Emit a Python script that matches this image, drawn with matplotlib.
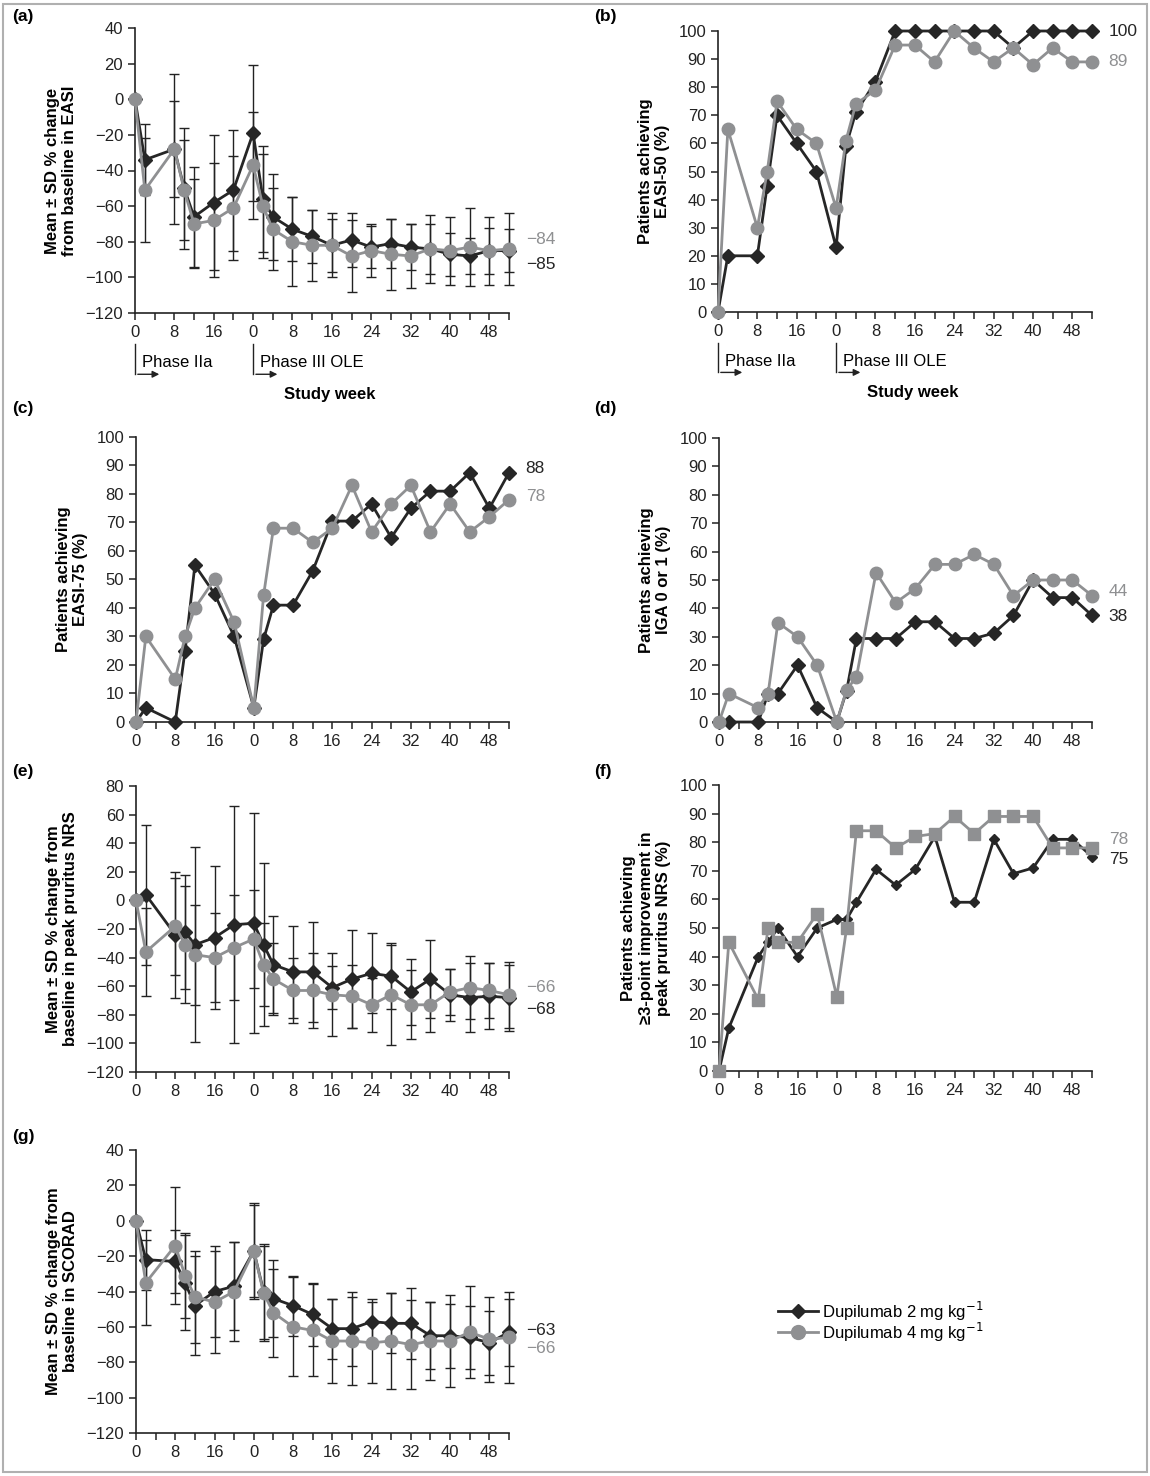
import matplotlib
matplotlib.use("Agg")
import matplotlib.pyplot as plt
from matplotlib.patches import Rectangle
import numpy as np

plt.rcParams['font.family'] = ['Liberation Sans', 'DejaVu Sans']

# x positions: Phase IIa weeks 0,2,8,10,12,16,20 ; OLE weeks 0,2,4,8..52 (offset 24)
weeks_iia = [0, 2, 8, 10, 12, 16, 20]
weeks_ole = [0, 2, 4, 8, 12, 16, 20, 24, 28, 32, 36, 40, 44, 48, 52]
x = np.array(weeks_iia + [24 + w for w in weeks_ole])
xticks = np.arange(0, 77, 4)
xticklabels = ['0', '', '8', '', '16', '', '0', '', '8', '', '16', '', '24', '', '32', '', '40', '', '48', '']

# (a) EASI
a_2 = [0, -34, -28, -50, -66, -58, -51, -19, -56, -66, -73, -77, -82, -79, -83, -81, -83, -84, -87, -88, -85, -85]
a_2sd = [0, 20, 27, 34, 28, 38, 34, 38, 30, 24, 18, 15, 15, 15, 12, 14, 13, 14, 12, 10, 13, 12]
a_4 = [0, -51, -28, -51, -70, -68, -61, -37, -60, -73, -80, -82, -82, -88, -85, -87, -88, -84, -85, -83, -85, -84]
a_4sd = [0, 29, 42, 28, 25, 32, 29, 30, 29, 23, 25, 20, 18, 20, 15, 20, 18, 19, 19, 22, 19, 20]
# (b) EASI-50
b_2 = [0, 20, 20, 45, 70, 60, 50, 23, 59, 71, 82, 100, 100, 100, 100, 100, 100, 94, 100, 100, 100, 100]
b_4 = [0, 65, 30, 50, 75, 65, 60, 37, 61, 74, 79, 95, 95, 89, 100, 94, 89, 94, 88, 94, 89, 89]
# (c) EASI-75
c_2 = [0, 5, 0, 25, 55, 45, 30, 5, 29, 41, 41, 53, 70.5, 70.5, 76.5, 64.7, 75, 81, 81, 87.5, 75, 87.5]
c_4 = [0, 30, 15, 30, 40, 50, 35, 5, 44.5, 68, 68, 63, 68, 83, 66.7, 76.5, 83, 66.7, 76.5, 66.7, 72, 78]
# (d) IGA 0/1
d_2 = [0, 0, 0, 10, 10, 20, 5, 0, 11, 29.4, 29.4, 29.4, 35.3, 35.3, 29.4, 29.4, 31.3, 37.5, 50, 43.8, 43.8, 37.5]
d_4 = [0, 10, 5, 10, 35, 30, 20, 0, 11.4, 15.8, 52.6, 42, 47, 55.5, 55.5, 59, 55.5, 44.5, 50, 50, 50, 44.5]
# (e) pruritus NRS
e_2 = [0, 4, -24, -22, -31, -26, -17, -16, -31, -45, -50, -50, -61, -55, -51, -53, -64, -55, -66, -68, -67, -68]
e_2sd = [0, 49, 44, 40, 68, 50, 83, 77, 57, 34, 32, 35, 15, 34, 28, 23, 23, 27, 18, 24, 23, 23]
e_4 = [0, -36, -18, -31, -38, -40, -33, -27, -45, -55, -63, -63, -66, -67, -73, -66, -73, -73, -64, -61, -63, -66]
e_4sd = [0, 31, 34, 41, 35, 31, 37, 34, 29, 25, 23, 26, 29, 22, 19, 35, 24, 19, 16, 22, 19, 23]
# (f) >=3-point NRS improvement
f_2 = [0, 15, 40, 45, 50, 40, 50, 53, 53, 59, 70.5, 65, 70.5, 82, 59, 59, 81, 69, 71, 81, 81, 75]
f_4 = [0, 45, 25, 50, 45, 45, 55, 26, 50, 84, 84, 78, 82, 83, 89, 83, 89, 89, 89, 78, 78, 78]
# (g) SCORAD
g_2 = [0, -22, -23, -35, -48, -40, -37, -17, -40, -44, -48, -53, -61, -61, -57, -58, -58, -65, -65, -66, -69, -63]
g_2sd = [0, 17, 18, 27, 28, 26, 25, 27, 27, 22, 17, 18, 17, 21, 13, 17, 20, 19, 18, 18, 18, 19]
g_4 = [0, -35, -14, -31, -43, -46, -40, -17, -41, -52, -60, -62, -68, -68, -69, -68, -70, -68, -68, -63, -67, -66]
g_4sd = [0, 24, 33, 24, 26, 29, 28, 26, 27, 25, 28, 26, 24, 25, 23, 27, 25, 22, 26, 26, 24, 26]

DARK = '#262626'
GREY = '#8f9092'
W, H = 1150, 1476
fig = plt.figure(figsize=(W / 100, H / 100), dpi=100)
fig.patches.append(Rectangle((0.003, 0.003), 0.994, 0.994, transform=fig.transFigure,
                             fill=False, edgecolor='#b0b0b0', lw=1.5))

def mkax(x0, ytop, x1, ybot):
    return fig.add_axes([x0 / W, 1 - ybot / H, (x1 - x0) / W, (ybot - ytop) / H])

FS = 12

def style(ax, ylim, ystep, ylabel):
    ax.set_xlim(0, 76)
    ax.set_ylim(*ylim)
    ax.set_yticks(np.arange(ylim[0], ylim[1] + 0.1, ystep))
    ax.set_xticks(xticks)
    ax.set_xticklabels(xticklabels)
    for s in ['top', 'right']:
        ax.spines[s].set_visible(False)
    for s in ['left', 'bottom']:
        ax.spines[s].set_linewidth(1.2)
        ax.spines[s].set_color('#222222')
    ax.tick_params(direction='out', length=5, width=1.1, labelsize=FS, colors='#222222')
    ax.set_ylabel(ylabel, fontsize=FS, fontweight='bold', labelpad=6, linespacing=1.2)
    ax.margins(0)
    for sp in ax.spines.values():
        sp.set_clip_on(False)

def series(ax, y2, y4, sq=False, sd2=None, sd4=None, ms2=7, ms4=9):
    if sd2 is not None:
        ax.errorbar(x[1:], y2[1:], yerr=sd2[1:], fmt='none', ecolor='#222222', elinewidth=1, capsize=3.5, capthick=1, zorder=1, clip_on=False)
        ax.errorbar(x[1:], y4[1:], yerr=sd4[1:], fmt='none', ecolor='#222222', elinewidth=1, capsize=3.5, capthick=1, zorder=1, clip_on=False)
    ax.plot(x, y2, color=DARK, lw=2, marker='D', ms=ms2, zorder=3, clip_on=False)
    ax.plot(x, y4, color=GREY, lw=2, marker='s' if sq else 'o', ms=ms4 if not sq else 8, zorder=4, clip_on=False)

def endlab(ax, y, txt, color):
    ax.annotate(txt, xy=(76, y), xytext=(12, 0), textcoords='offset points', va='center', ha='left',
                fontsize=FS + 0.5, color=color, annotation_clip=False)

def letter(px, py, s):
    fig.text(px / W, 1 - py / H, s, fontsize=FS + 0.5, fontweight='bold', va='center', ha='left')

def phase(ax):
    tr = ax.get_xaxis_transform()
    for x0, lab in [(0, 'Phase IIa'), (24, 'Phase III OLE')]:
        ax.plot([x0, x0], [-0.11, -0.215], transform=tr, color='#222222', lw=1, clip_on=False)
        ax.annotate('', xy=(x0 + 5.5, -0.215), xytext=(x0, -0.215), xycoords=tr, textcoords=tr,
                    arrowprops=dict(arrowstyle='-|>', color='#222222', lw=1, mutation_scale=10), annotation_clip=False)
        ax.text(x0 + 1.5, -0.175, lab, transform=tr, fontsize=FS, va='center', ha='left')
    ax.text(0.52, -0.285, 'Study week', transform=ax.transAxes, fontsize=FS, fontweight='bold', ha='center', va='center')

# (a)
ax = mkax(135, 28, 509, 313)
style(ax, (-120, 40), 20, 'Mean ± SD % change\nfrom baseline in EASI')
series(ax, a_2, a_4, sd2=a_2sd, sd4=a_4sd)
endlab(ax, -79, '−84', GREY); endlab(ax, -93, '−85', DARK)
phase(ax)
letter(12, 16, '(a)')

# (b)
ax = mkax(718, 31, 1092, 312)
style(ax, (0, 100), 10, 'Patients achieving\nEASI-50 (%)')
series(ax, b_2, b_4)
endlab(ax, 100, '100', DARK); endlab(ax, 89, '89', GREY)
phase(ax)
letter(594, 16, '(b)')

# (c)
ax = mkax(136, 437, 509, 722)
style(ax, (0, 100), 10, 'Patients achieving\nEASI-75 (%)')
series(ax, c_2, c_4)
endlab(ax, 89, '88', DARK); endlab(ax, 79, '78', GREY)
letter(12, 409, '(c)')

# (d)
ax = mkax(719, 438, 1092, 722)
style(ax, (0, 100), 10, 'Patients achieving\nIGA 0 or 1 (%)')
series(ax, d_2, d_4)
endlab(ax, 46, '44', GREY); endlab(ax, 37, '38', DARK)
letter(594, 409, '(d)')

# (e)
ax = mkax(136, 786, 509, 1072)
style(ax, (-120, 80), 20, 'Mean ± SD % change from\nbaseline in peak pruritus NRS')
series(ax, e_2, e_4, sd2=e_2sd, sd4=e_4sd)
endlab(ax, -61, '−66', GREY); endlab(ax, -76, '−68', DARK)
letter(12, 772, '(e)')

# (f)
ax = mkax(719, 785, 1092, 1071)
style(ax, (0, 100), 10, 'Patients achieving\n≥3-point improvement in\npeak pruritus NRS (%)')
series(ax, f_2, f_4, sq=True, ms2=5)
endlab(ax, 81, '78', GREY); endlab(ax, 74, '75', DARK)
letter(594, 772, '(f)')

# (g)
ax = mkax(136, 1150, 509, 1433)
style(ax, (-120, 40), 20, 'Mean ± SD % change from\nbaseline in SCORAD')
series(ax, g_2, g_4, sd2=g_2sd, sd4=g_4sd)
endlab(ax, -62, '−63', DARK); endlab(ax, -72, '−66', GREY)
letter(12, 1136, '(g)')

# legend
lax = fig.add_axes([770 / W, 1 - 1345 / H, 300 / W, 45 / H])
lax.axis('off')
lax.set_xlim(0, 300); lax.set_ylim(0, 45)
lax.plot([8, 48], [34, 34], color=DARK, lw=2, clip_on=False)
lax.plot([28], [34], color=DARK, marker='D', ms=7, clip_on=False)
lax.plot([8, 48], [13, 13], color=GREY, lw=2, clip_on=False)
lax.plot([28], [13], color=GREY, marker='o', ms=10, clip_on=False)
lax.text(52, 34, 'Dupilumab 2 mg kg$^{-1}$', fontsize=FS, va='center')
lax.text(52, 13, 'Dupilumab 4 mg kg$^{-1}$', fontsize=FS, va='center')

fig.savefig('out.png', dpi=100)
